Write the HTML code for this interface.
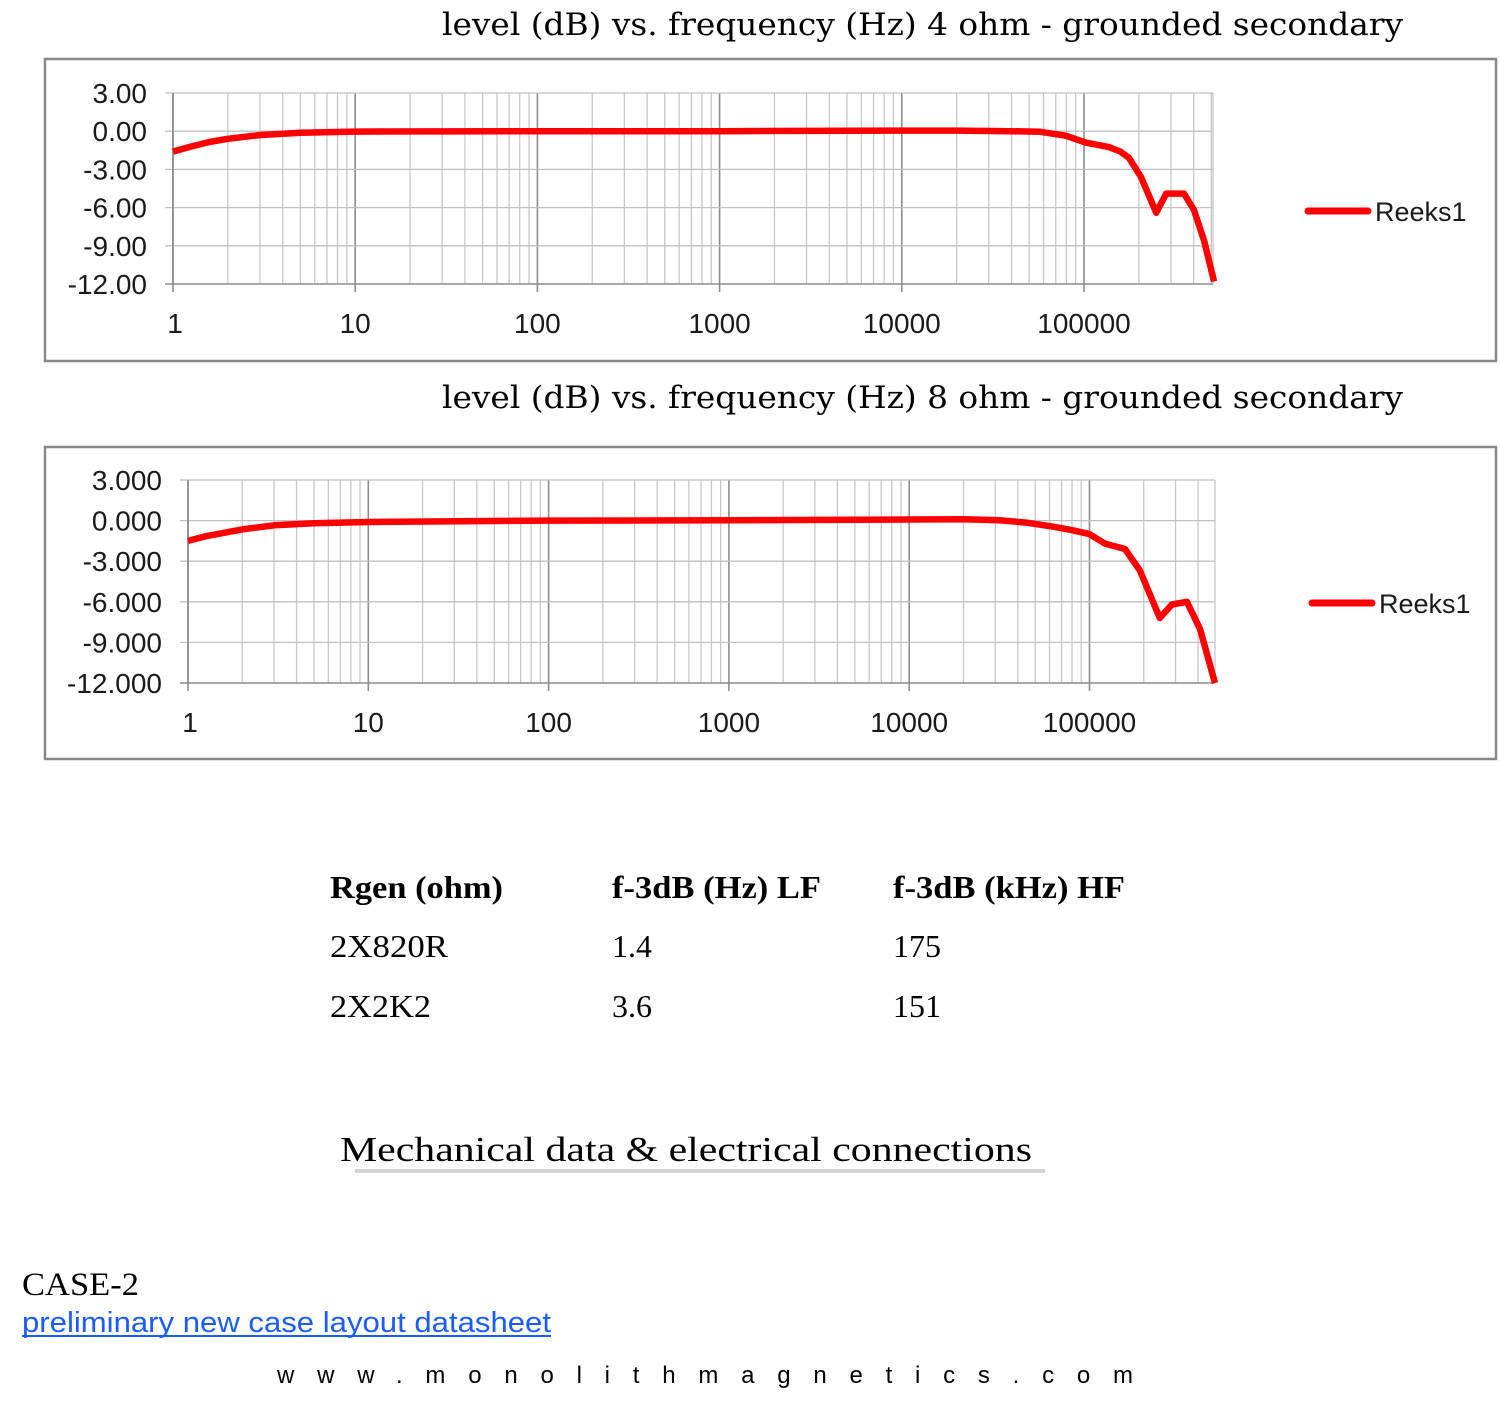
<!DOCTYPE html>
<html><head><meta charset="utf-8">
<style>
html,body{margin:0;padding:0;background:#fff;}
svg{display:block;}
</style></head>
<body>
<svg id="s" width="1500" height="1417" xmlns="http://www.w3.org/2000/svg">
<rect width="1500" height="1417" fill="#fff"/>
<text x="442" y="35" font-family="DejaVu Serif, Liberation Serif, serif" font-size="31" textLength="961" lengthAdjust="spacingAndGlyphs" fill="#000">level (dB) vs. frequency (Hz) 4 ohm - grounded secondary</text>
<text x="442" y="408" font-family="DejaVu Serif, Liberation Serif, serif" font-size="31" textLength="961" lengthAdjust="spacingAndGlyphs" fill="#000">level (dB) vs. frequency (Hz) 8 ohm - grounded secondary</text>
<rect x="45" y="59" width="1451" height="302" fill="none" stroke="#888" stroke-width="2.5"/>
<rect x="45" y="447" width="1451" height="312" fill="none" stroke="#888" stroke-width="2.5"/>
<g id="c1"></g>
<g id="c2"></g>
<g font-family="Liberation Serif, serif" font-size="32" fill="#000">
<text x="330" y="898" font-weight="bold" textLength="173" lengthAdjust="spacingAndGlyphs">Rgen (ohm)</text>
<text x="612" y="898" font-weight="bold" textLength="209" lengthAdjust="spacingAndGlyphs">f-3dB (Hz) LF</text>
<text x="893" y="898" font-weight="bold" textLength="232" lengthAdjust="spacingAndGlyphs">f-3dB (kHz) HF</text>
<text x="330" y="957" textLength="118" lengthAdjust="spacingAndGlyphs">2X820R</text>
<text x="612" y="957">1.4</text>
<text x="893" y="957">175</text>
<text x="330" y="1017" textLength="101" lengthAdjust="spacingAndGlyphs">2X2K2</text>
<text x="612" y="1017">3.6</text>
<text x="893" y="1017">151</text>
<text x="340" y="1161" font-size="35" textLength="692" lengthAdjust="spacingAndGlyphs">Mechanical data &amp; electrical connections</text>
<text x="22" y="1295" font-size="33" textLength="117" lengthAdjust="spacingAndGlyphs">CASE-2</text>
</g>
<rect x="355" y="1169" width="690" height="4" fill="#d4d4d4"/>
<text x="22" y="1332" font-family="Liberation Sans, sans-serif" font-size="29" fill="#1a5cff" textLength="529" lengthAdjust="spacingAndGlyphs">preliminary new case layout datasheet</text>
<rect x="22" y="1335" width="529" height="2" fill="#1a5cff"/>
<text x="277" y="1383" font-family="Liberation Sans, sans-serif" font-size="24" fill="#000" textLength="856" lengthAdjust="spacing">www.monolithmagnetics.com</text>
</svg>
<script>
var NS="http://www.w3.org/2000/svg";
function el(p,t,a,txt){var e=document.createElementNS(NS,t);for(var k in a)e.setAttribute(k,a[k]);if(txt!=null)e.textContent=txt;p.appendChild(e);return e;}
function chart(id,L,R,top,bot,dec,ylabels,xlabY,pts,legX,legY){
  var g=document.getElementById(id);
  var maxlog=(R-L)/dec;
  var yr=function(db){return top+(3-db)/15*(bot-top);};
  var xr=function(lf){return L+lf*dec;};
  for(var d=0;d<6;d++){for(var m=1;m<10;m++){var lf=d+Math.log10(m);if(lf>maxlog+0.001)break;var x=xr(lf);
    el(g,'line',{x1:x,y1:top,x2:x,y2:bot+(m==1?8:0),stroke:m==1?'#8c8c8c':'#c8c8c8','stroke-width':m==1?1.6:1.3});}}
  el(g,'line',{x1:R,y1:top,x2:R,y2:bot,stroke:'#c8c8c8','stroke-width':1.3});
  for(var i=0;i<6;i++){var y=yr(3-3*i);el(g,'line',{x1:L-8,y1:y,x2:R,y2:y,stroke:i==5?'#8c8c8c':'#c0c0c0','stroke-width':i==5?1.6:1.3});}
  el(g,'line',{x1:L,y1:top,x2:L,y2:bot,stroke:'#8c8c8c','stroke-width':1.6});
  for(var i=0;i<6;i++){el(g,'text',{x:L-26,y:yr(3-3*i)+10,'text-anchor':'end','font-family':'Liberation Sans, sans-serif','font-size':28,fill:'#1a1a1a'},ylabels[i]);}
  var xl=['1','10','100','1000','10000','100000'];
  for(var d=0;d<6;d++){el(g,'text',{x:xr(d)+(d==0?2:0),y:xlabY,'text-anchor':'middle','font-family':'Liberation Sans, sans-serif','font-size':28,fill:'#1a1a1a'},xl[d]);}
  var s='';
  for(var i=0;i<pts.length;i++){var p=pts[i];s+=(i?'L':'M')+xr(p[0]).toFixed(1)+','+yr(p[1]).toFixed(1);}
  el(g,'path',{d:s,fill:'none',stroke:'#ff0000','stroke-width':6.5,'stroke-linejoin':'round'});
  el(g,'line',{x1:legX,y1:legY,x2:legX+60,y2:legY,stroke:'#ff0000','stroke-width':7,'stroke-linecap':'round'});
  el(g,'text',{x:legX+67,y:legY+10,'font-family':'Liberation Sans, sans-serif','font-size':27,fill:'#1a1a1a'},'Reeks1');
}
var p1=[[0,-1.6],[0.1,-1.2],[0.2,-0.85],[0.3,-0.6],[0.48,-0.3],[0.7,-0.12],[1,-0.03],[2,0],[3,0],[4,0.05],[4.3,0.05],[4.6,0],[4.76,-0.05],[4.9,-0.35],[5.011,-0.9],[5.137,-1.25],[5.2,-1.6],[5.247,-2.1],[5.313,-3.6],[5.396,-6.4],[5.451,-4.9],[5.549,-4.9],[5.604,-6.2],[5.659,-8.6],[5.714,-11.8]];
var p2=[[0,-1.5],[0.1,-1.15],[0.2,-0.9],[0.3,-0.65],[0.48,-0.35],[0.7,-0.2],[1,-0.1],[2,0],[3,0.02],[4,0.08],[4.3,0.1],[4.5,0.02],[4.65,-0.15],[4.8,-0.45],[4.9,-0.7],[5.0,-1.0],[5.086,-1.7],[5.197,-2.1],[5.28,-3.7],[5.39,-7.2],[5.457,-6.2],[5.54,-6.0],[5.613,-8.0],[5.696,-12]];
chart('c1',173,1213,93,284,182.2,['3.00','0.00','-3.00','-6.00','-9.00','-12.00'],333,p1,1308,211);
chart('c2',188,1215,480,683,180.3,['3.000','0.000','-3.000','-6.000','-9.000','-12.000'],732,p2,1312,603);
</script>
</body></html>
